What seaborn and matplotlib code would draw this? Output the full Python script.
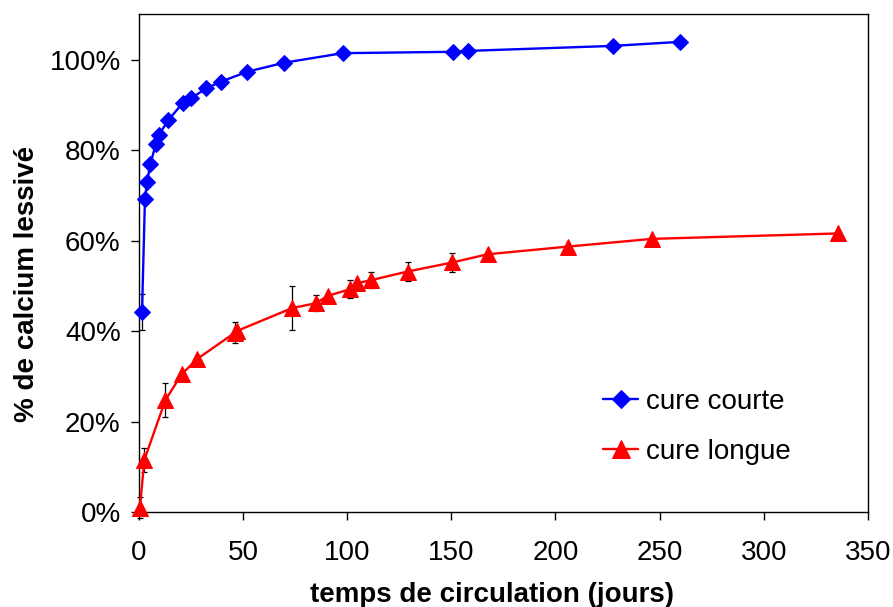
import matplotlib
matplotlib.use("Agg")
import matplotlib.pyplot as plt
import seaborn as sns
import pandas as pd
from matplotlib.ticker import PercentFormatter

# ---- data ----
courte_x = [1.6, 3.0, 4.0, 5.6, 8.2, 9.6, 14.2, 21.3, 25.0, 32.3, 39.4, 52.1, 69.9,
            97.9, 151.0, 158.0, 227.4, 260.0]
courte_y = [44.2, 69.1, 72.9, 76.9, 81.3, 83.3, 86.6, 90.5, 91.4, 93.6, 95.1, 97.3, 99.3,
            101.4, 101.7, 101.9, 103.0, 103.9]
courte_err = [4.0, 0, 0, 0, 0, 0, 0, 0, 0, 0, 0, 0, 0, 0, 0, 0, 0, 0]

longue_x = [0.6, 2.7, 12.8, 20.6, 28.1, 46.2, 47.3, 73.5, 85.0, 90.7, 101.4, 104.7, 111.6,
            129.1, 150.6, 167.4, 206.0, 246.2, 335.6]
longue_y = [1.1, 11.6, 24.8, 30.5, 33.9, 39.7, 40.1, 45.1, 46.2, 47.8, 49.3, 50.6, 51.3,
            53.2, 55.2, 57.0, 58.7, 60.4, 61.6]
longue_err = [2.3, 2.7, 3.7, 0, 0, 2.3, 0, 4.8, 1.8, 0, 2.0, 0, 1.8, 2.2, 2.0, 0, 0, 0, 0]

x_ticks = [0, 50, 100, 150, 200, 250, 300, 350]
y_ticks = [0, 20, 40, 60, 80, 100]
series_names = ["cure courte", "cure longue"]

sns.set_theme(style="ticks")
plt.rcParams["font.family"] = ["Liberation Sans", "DejaVu Sans"]
plt.rcParams["text.color"] = "black"
plt.rcParams["axes.labelcolor"] = "black"
plt.rcParams["xtick.color"] = "black"
plt.rcParams["ytick.color"] = "black"

fig = plt.figure(figsize=(8.93, 6.07), dpi=100)
ax = fig.add_axes([0.1553, 0.1557, 0.8167, 0.8209])

df_c = pd.DataFrame({"x": courte_x, "y": courte_y})
df_l = pd.DataFrame({"x": longue_x, "y": longue_y})

# error bars (below markers)
ax.errorbar(courte_x, courte_y, yerr=courte_err, fmt="none", ecolor="black",
            elinewidth=0.9, capsize=2.5, capthick=0.9, zorder=1)
ax.errorbar(longue_x, longue_y, yerr=longue_err, fmt="none", ecolor="black",
            elinewidth=0.9, capsize=2.5, capthick=0.9, zorder=1)

sns.lineplot(data=df_c, x="x", y="y", ax=ax, color="#0000FF", marker="D",
             markersize=8, markeredgecolor="#0000FF", linewidth=1.7,
             sort=False, label=series_names[0], zorder=3)
sns.lineplot(data=df_l, x="x", y="y", ax=ax, color="#FF0000", marker="^",
             markersize=11, markeredgecolor="#FF0000", linewidth=1.7,
             sort=False, label=series_names[1], zorder=3)
for ln in ax.lines:
    ln.set_clip_on(False)

ax.set_xlim(0, 350)
ax.set_ylim(0, 110)
ax.set_xticks(x_ticks)
ax.set_yticks(y_ticks)
ax.yaxis.set_major_formatter(PercentFormatter(xmax=100, decimals=0))

for s in ax.spines.values():
    s.set_visible(True)
    s.set_color("black")
    s.set_linewidth(1.0)

ax.tick_params(axis="both", direction="out", length=6, width=1.0, color="black",
               labelsize=20, labelcolor="black")
ax.tick_params(axis="y", pad=7)
ax.tick_params(axis="x", pad=14)

ax.set_xlabel("temps de circulation (jours)", fontsize=20, fontweight="bold",
              color="black")
ax.set_ylabel("% de calcium lessivé", fontsize=20, fontweight="bold", color="black")
ax.xaxis.set_label_coords(0.4844, -0.14)
ax.yaxis.set_label_coords(-0.135, 0.4586)

leg = ax.legend(loc="upper left", bbox_to_anchor=(0.637, 0.248), frameon=False,
                fontsize=20, handlelength=1.25, handletextpad=0.3, labelspacing=0.85,
                borderaxespad=0, borderpad=0)
for t in leg.get_texts():
    t.set_color("black")
for h in leg.legend_handles:
    try:
        h.set_markersize(h.get_markersize() * 1.15)
    except AttributeError:
        pass

fig.savefig("out.png", dpi=100)
